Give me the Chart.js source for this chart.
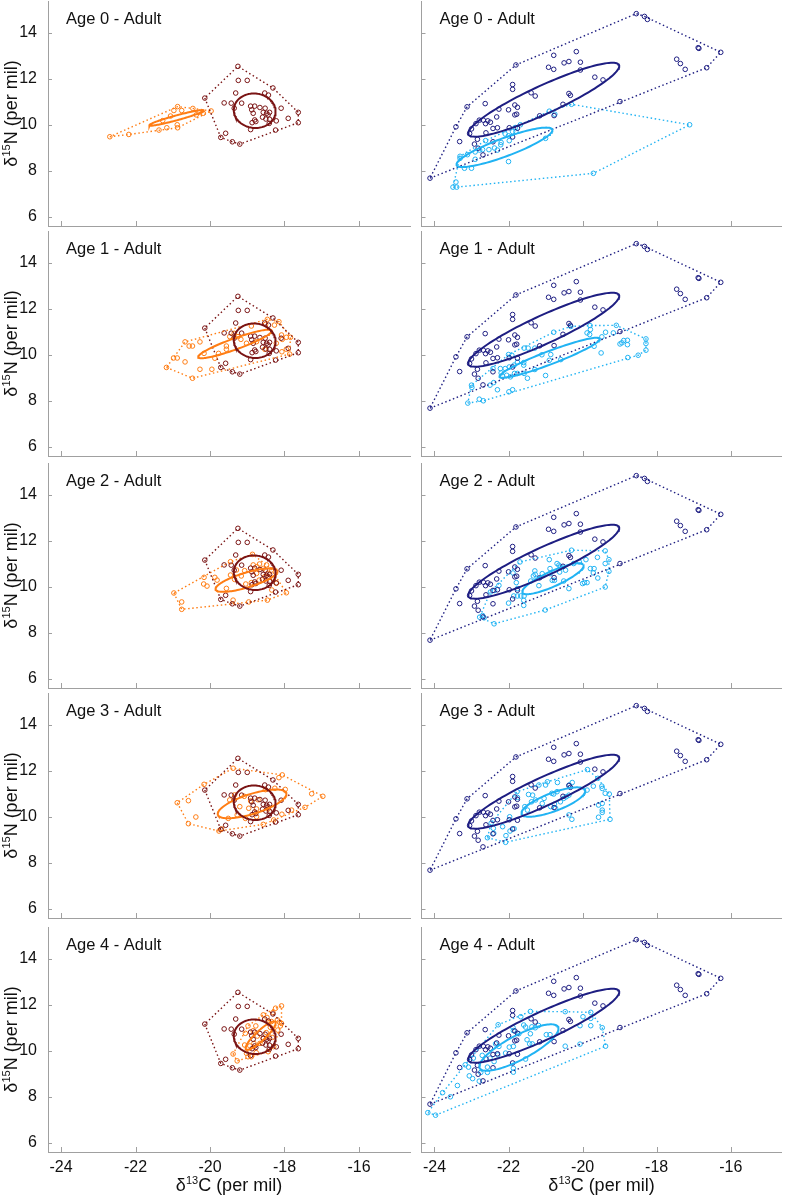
<!DOCTYPE html>
<html>
<head>
<meta charset="utf-8">
<script src="https://cdn.jsdelivr.net/npm/chart.js@4.4.1/dist/chart.umd.min.js"></script>
<style>
    body { margin: 0; background: #fff; width: 787px; height: 1196px; position: relative; overflow: hidden; }
    canvas { position: absolute; }
</style>
</head>
<body>
<script>
        // Axes
        const xTickVals = [-24, -22, -20, -18, -16];
        const yTickVals = [6, 8, 10, 12, 14];
        const panelLabels = ['Age 0 - Adult', 'Age 1 - Adult', 'Age 2 - Adult', 'Age 3 - Adult', 'Age 4 - Adult'];

        // Left column: adults (dark red) and juveniles by age (orange), [d13C, d15N]
        const leftAdult = [[-19.25,12.55],[-19.24,11.94],[-19.00,11.94],[-20.14,11.17],[-19.31,11.39],[-19.62,10.96],[-19.43,10.95],[-19.15,10.95],[-19.35,10.73],[-18.53,11.39],[-18.43,11.30],[-18.31,11.61],[-18.09,10.73],[-17.63,10.55],[-17.63,10.10],[-17.90,10.29],[-18.22,10.18],[-18.24,9.78],[-18.91,10.82],[-18.80,10.82],[-18.88,10.66],[-18.84,10.51],[-18.66,10.76],[-18.57,10.55],[-18.52,10.73],[-18.48,10.51],[-18.44,10.44],[-18.40,10.55],[-18.59,10.34],[-18.50,10.26],[-18.40,10.25],[-18.41,10.07],[-18.80,10.22],[-18.87,10.10],[-18.77,10.15],[-18.91,9.80],[-19.58,9.64],[-19.71,9.46],[-19.40,9.27],[-19.20,9.17]];
        const leftAge0 = [[-22.69,9.49],[-22.18,9.59],[-21.37,9.78],[-21.16,9.88],[-20.88,10.01],[-20.87,9.88],[-21.27,10.19],[-21.06,10.39],[-20.97,10.63],[-20.87,10.80],[-20.76,10.63],[-20.46,10.72],[-20.37,10.44],[-20.29,10.55],[-20.18,10.51],[-19.97,10.61]];
        const leftAge1 = [[-21.17,9.46],[-20.98,9.87],[-20.88,9.87],[-20.67,9.70],[-20.47,8.99],[-20.27,9.38],[-19.95,9.38],[-20.67,10.57],[-20.56,10.39],[-20.47,10.39],[-20.27,10.57],[-20.16,10.07],[-19.87,9.86],[-19.77,10.07],[-19.56,10.39],[-19.56,10.25],[-19.47,10.80],[-19.35,10.94],[-19.25,10.80],[-19.17,10.68],[-18.89,11.26],[-18.51,11.33],[-18.46,11.55],[-18.15,11.45],[-18.27,11.30],[-18.08,10.87],[-18.06,10.68],[-17.95,10.77],[-17.84,10.77],[-18.22,10.51],[-18.53,10.25],[-18.07,10.14],[-17.95,10.25],[-17.86,10.04],[-19.02,10.51],[-18.75,10.58]];
        const leftAge2 = [[-20.97,9.74],[-20.76,9.35],[-20.76,9.03],[-20.16,10.42],[-20.17,10.13],[-20.08,10.04],[-19.87,10.42],[-19.81,10.30],[-19.56,9.94],[-19.45,10.52],[-19.38,9.43],[-19.34,10.33],[-19.29,10.74],[-19.45,11.10],[-19.07,10.71],[-18.96,9.35],[-18.86,11.42],[-18.84,10.96],[-18.74,10.88],[-18.67,11.00],[-18.75,10.59],[-18.68,10.30],[-18.57,10.81],[-18.53,10.45],[-18.44,10.59],[-18.35,10.74],[-18.46,9.43],[-18.34,9.87],[-18.22,10.16],[-17.95,9.75],[-18.30,10.38],[-19.04,10.13],[-18.89,10.19],[-19.16,10.48],[-18.48,10.96]];
        const leftAge3 = [[-20.88,10.62],[-20.58,10.71],[-20.38,10.00],[-20.58,9.71],[-20.16,11.42],[-19.76,9.39],[-19.69,9.48],[-19.38,12.12],[-19.47,10.74],[-19.34,10.96],[-19.20,10.45],[-19.08,10.90],[-18.96,10.38],[-18.91,10.70],[-18.75,10.35],[-18.71,10.75],[-18.57,9.68],[-18.51,11.19],[-18.44,10.35],[-18.26,11.25],[-18.15,11.71],[-18.06,11.83],[-18.07,10.12],[-17.98,11.20],[-17.81,10.30],[-17.45,10.42],[-17.27,11.01],[-16.97,10.90],[-19.27,10.09],[-19.51,9.94],[-19.05,9.94],[-18.75,10.01],[-18.29,9.87]];
        const leftAge4 = [[-19.38,9.87],[-19.27,9.57],[-19.02,9.90],[-18.98,9.75],[-18.89,9.75],[-19.07,10.26],[-18.93,10.22],[-18.98,11.09],[-18.77,11.09],[-18.84,10.88],[-19.05,10.77],[-18.57,11.57],[-18.47,11.46],[-18.42,11.23],[-18.35,11.28],[-18.31,11.67],[-18.19,11.35],[-18.14,11.26],[-18.08,11.20],[-18.11,11.09],[-18.08,11.96],[-18.24,11.86],[-18.38,11.03],[-18.49,10.80],[-18.73,10.65],[-18.66,10.33],[-18.82,10.33],[-18.76,9.93],[-18.57,10.55],[-18.44,9.97],[-18.33,10.59],[-18.18,10.91],[-18.29,10.19]];
        const leftAges = [leftAge0, leftAge1, leftAge2, leftAge3, leftAge4];

        // Right column: adults (navy) and juveniles by age (light blue)
        const rightAdult = [[-24.12,7.69],[-23.42,9.92],[-23.32,9.28],[-23.12,10.79],[-21.80,12.61],[-18.55,14.84],[-18.33,14.72],[-18.25,14.59],[-16.88,13.36],[-16.86,13.33],[-16.27,13.16],[-16.65,12.49],[-17.46,12.86],[-17.36,12.67],[-17.23,12.42],[-18.99,11.02],[-19.67,12.08],[-19.45,11.96],[-20.06,12.73],[-20.06,12.39],[-20.17,13.19],[-20.50,12.70],[-20.37,12.76],[-20.78,13.03],[-20.92,12.51],[-20.78,12.42],[-21.89,11.76],[-21.89,11.55],[-21.39,11.40],[-21.28,11.26],[-20.37,11.37],[-20.33,11.29],[-20.53,10.90],[-20.77,10.41],[-21.16,10.40],[-21.83,10.87],[-21.76,10.77],[-22.00,10.66],[-21.83,10.44],[-21.78,10.47],[-22.26,10.69],[-22.32,10.35],[-22.63,10.93],[-23.00,9.83],[-23.05,9.63],[-22.88,10.06],[-22.79,10.21],[-22.68,10.21],[-22.56,10.18],[-22.49,10.12],[-22.62,10.06],[-22.42,9.85],[-22.30,9.88],[-22.61,9.66],[-22.84,9.38],[-22.92,9.17],[-22.82,8.99],[-22.69,8.70],[-22.42,9.27],[-21.98,9.88],[-21.76,9.86],[-21.89,9.48]];
        const rightAge0 = [[-23.50,7.30],[-23.40,7.30],[-23.42,7.52],[-23.19,8.12],[-23.00,8.12],[-23.31,8.55],[-23.31,8.64],[-23.11,8.71],[-22.90,8.51],[-22.90,8.83],[-22.78,8.91],[-22.70,8.93],[-22.62,9.32],[-22.53,8.93],[-22.38,9.00],[-22.30,8.91],[-22.20,9.24],[-22.21,9.14],[-22.09,9.61],[-22.00,9.53],[-21.98,9.32],[-21.89,9.71],[-21.80,9.71],[-21.82,9.89],[-21.68,10.01],[-22.00,8.41],[-21.00,9.42],[-20.90,10.60],[-20.75,10.47],[-20.30,10.90],[-17.11,10.01],[-19.71,7.90]];
        const rightAge1 = [[-23.10,7.91],[-22.79,8.08],[-22.68,8.01],[-23.00,8.69],[-22.99,8.59],[-22.50,8.69],[-22.40,8.80],[-22.30,8.49],[-21.99,8.40],[-21.89,8.49],[-22.42,9.41],[-22.22,9.41],[-22.20,9.22],[-22.09,9.41],[-22.16,9.08],[-22.05,9.12],[-21.95,9.05],[-21.84,9.20],[-21.76,9.20],[-21.58,9.20],[-21.98,9.48],[-21.85,9.56],[-21.76,9.69],[-21.59,9.67],[-21.59,9.56],[-22.00,10.02],[-21.91,9.99],[-21.49,8.99],[-21.29,9.37],[-21.00,9.11],[-21.58,10.30],[-21.47,10.30],[-21.29,10.30],[-21.10,10.01],[-20.86,10.02],[-20.90,9.77],[-20.59,9.80],[-20.78,10.99],[-20.32,11.24],[-19.80,11.28],[-19.79,11.11],[-19.88,10.96],[-19.81,10.89],[-19.69,10.38],[-19.50,10.09],[-19.48,10.79],[-19.38,10.99],[-19.17,10.96],[-19.09,11.29],[-18.99,10.48],[-18.94,10.53],[-18.89,10.63],[-18.79,10.64],[-18.79,10.45],[-18.29,10.70],[-18.29,10.50],[-18.29,10.21],[-18.50,9.99],[-18.78,9.89]];
        const rightAge2 = [[-22.39,8.40],[-22.78,8.69],[-22.70,8.76],[-22.66,8.66],[-22.49,9.78],[-22.38,9.85],[-22.26,10.07],[-22.00,9.30],[-21.86,9.61],[-21.76,9.61],[-21.67,9.61],[-21.58,9.61],[-21.59,9.20],[-21.59,9.42],[-21.76,9.93],[-21.88,10.61],[-21.79,10.19],[-21.69,11.09],[-21.40,10.26],[-21.33,10.48],[-21.29,10.70],[-21.28,10.55],[-21.18,10.06],[-21.09,10.58],[-21.01,9.00],[-20.90,11.19],[-20.88,10.80],[-20.88,10.58],[-20.82,10.29],[-20.76,10.29],[-20.69,11.02],[-20.64,10.95],[-20.60,10.87],[-20.62,10.65],[-20.51,10.26],[-20.37,9.93],[-20.46,10.73],[-20.30,11.60],[-20.24,11.02],[-20.09,11.09],[-20.00,10.15],[-19.95,10.19],[-19.88,10.19],[-19.91,11.19],[-19.79,10.80],[-19.71,10.61],[-19.69,10.80],[-19.59,10.39],[-19.39,10.00],[-19.39,11.02],[-19.29,11.19],[-19.29,10.68],[-19.39,11.57],[-19.60,11.29]];
        const rightAge3 = [[-22.57,9.10],[-22.40,9.29],[-22.08,8.90],[-22.07,9.19],[-21.96,9.39],[-21.85,9.49],[-22.47,9.73],[-22.41,9.51],[-22.16,9.58],[-21.97,10.01],[-21.77,11.10],[-21.76,10.85],[-21.56,10.45],[-21.49,10.30],[-21.46,10.98],[-21.35,10.95],[-21.27,10.74],[-21.38,10.66],[-21.18,11.39],[-21.00,11.39],[-20.95,11.53],[-20.83,11.03],[-20.78,11.00],[-20.68,11.50],[-21.04,10.81],[-21.09,10.59],[-20.86,10.45],[-20.73,10.38],[-20.76,10.56],[-20.60,10.66],[-20.51,10.81],[-20.44,10.88],[-20.37,10.95],[-20.36,11.39],[-20.28,11.50],[-20.69,11.10],[-20.37,10.09],[-20.29,9.90],[-19.88,11.17],[-19.87,12.06],[-19.71,11.34],[-19.59,11.68],[-19.48,11.34],[-19.47,11.24],[-19.57,10.52],[-19.57,9.99],[-19.47,10.59],[-19.47,10.30],[-19.47,10.20],[-19.39,11.03],[-19.28,11.00],[-19.26,9.90]];
        const rightAge4 = [[-24.18,7.32],[-23.97,7.21],[-23.78,8.19],[-23.57,8.01],[-23.38,8.50],[-23.17,9.40],[-23.08,9.30],[-23.06,8.92],[-22.97,8.80],[-22.79,8.69],[-22.75,9.07],[-22.95,9.69],[-22.71,9.81],[-22.57,9.30],[-22.57,9.07],[-22.50,9.69],[-22.39,9.54],[-22.28,11.14],[-22.35,10.31],[-22.26,10.20],[-22.29,9.83],[-22.08,9.91],[-21.98,10.17],[-21.88,11.02],[-21.87,10.89],[-21.87,10.20],[-21.87,9.25],[-21.87,9.08],[-21.72,10.75],[-21.67,11.49],[-21.59,11.13],[-21.54,11.04],[-21.50,10.49],[-21.43,10.31],[-21.36,10.31],[-21.41,10.75],[-21.37,11.05],[-21.28,11.01],[-21.19,11.11],[-21.41,11.72],[-21.54,9.65],[-20.98,10.71],[-20.88,10.71],[-20.47,11.71],[-20.47,10.21],[-20.07,11.10],[-20.07,10.30],[-19.99,11.49],[-19.78,11.68],[-19.78,11.42],[-19.78,11.10],[-19.47,11.01],[-19.38,10.21]];
        const rightAges = [rightAge0, rightAge1, rightAge2, rightAge3, rightAge4];

        // Standard ellipses: [centre d13C, centre d15N, semi-major, semi-minor, angle in degrees]
        const leftAdultEllipse = [-18.80, 10.62, 0.75, 0.56, 94];
        const leftAgeEllipses = [
            [-20.90, 10.31, 0.80, 0.10, 24],
            [-19.33, 10.48, 1.15, 0.22, 31],
            [-19.02, 10.30, 0.93, 0.30, 28],
            [-18.87, 10.57, 1.04, 0.40, 30],
            [-18.64, 10.67, 0.72, 0.16, 58]
        ];
        const rightAdultEllipse = [-21.05, 11.10, 2.54, 0.54, 37.6];
        const rightAgeEllipses = [
            [-22.11, 9.03, 1.51, 0.36, 32],
            [-20.89, 9.88, 1.59, 0.26, 32],
            [-20.80, 10.36, 1.03, 0.29, 38],
            [-20.79, 10.65, 1.01, 0.36, 34],
            [-21.72, 10.15, 1.40, 0.45, 43]
        ];

        const colors = { darkRed: '#7a1414', orange: '#ff7d14', navy: '#1e1e82', sky: '#21b3f3' };
        const axisGray = '#a0a0a0';
        const fontFamily = '"Liberation Sans", Arial, sans-serif';
        Chart.defaults.font.family = fontFamily;

        // Convex hull (monotone chain), closed
        function hull(pts) {
            const p = pts.map(q => q.slice()).sort((a, b) => a[0] - b[0] || a[1] - b[1]);
            const cross = (o, a, b) => (a[0] - o[0]) * (b[1] - o[1]) - (a[1] - o[1]) * (b[0] - o[0]);
            const lower = [], upper = [];
            for (const q of p) {
                while (lower.length >= 2 && cross(lower[lower.length - 2], lower[lower.length - 1], q) <= 0) lower.pop();
                lower.push(q);
            }
            for (const q of p.slice().reverse()) {
                while (upper.length >= 2 && cross(upper[upper.length - 2], upper[upper.length - 1], q) <= 0) upper.pop();
                upper.push(q);
            }
            lower.pop(); upper.pop();
            const h = lower.concat(upper);
            h.push(h[0]);
            return h.map(q => ({ x: q[0], y: q[1] }));
        }

        function ellipse(e) {
            const [cx, cy, a, b, deg] = e;
            const t = deg * Math.PI / 180;
            const out = [];
            for (let i = 0; i <= 120; i++) {
                const s = i / 120 * 2 * Math.PI;
                out.push({
                    x: cx + a * Math.cos(s) * Math.cos(t) - b * Math.sin(s) * Math.sin(t),
                    y: cy + a * Math.cos(s) * Math.sin(t) + b * Math.sin(s) * Math.cos(t)
                });
            }
            return out;
        }

        function pointSet(pts, color) {
            return {
                data: pts.map(([x, y]) => ({ x, y })),
                showLine: false,
                pointStyle: 'circle',
                pointRadius: 2.3,
                pointHoverRadius: 0,
                pointBorderWidth: 1,
                pointBackgroundColor: 'rgba(0,0,0,0)',
                borderColor: color
            };
        }

        function lineSet(data, color, width, dash) {
            return {
                data: data,
                showLine: true,
                pointRadius: 0,
                pointHoverRadius: 0,
                borderColor: color,
                borderWidth: width,
                borderDash: dash || [],
                tension: 0,
                fill: false
            };
        }

        // Superscript isotope label, e.g. δ15N (per mil)
        function isoLabel(ctx, sup, rest, cx, cy, rot) {
            ctx.save();
            ctx.translate(cx, cy);
            ctx.rotate(rot);
            const big = '18px ' + fontFamily, small = '11px ' + fontFamily;
            ctx.font = big;
            const w1 = ctx.measureText('δ').width, w3 = ctx.measureText(rest).width;
            ctx.font = small;
            const w2 = ctx.measureText(sup).width;
            let x = -(w1 + w2 + w3) / 2;
            ctx.fillStyle = '#111';
            ctx.textBaseline = 'alphabetic';
            ctx.textAlign = 'left';
            ctx.font = big; ctx.fillText('δ', x, 6); x += w1;
            ctx.font = small; ctx.fillText(sup, x, -1); x += w2;
            ctx.font = big; ctx.fillText(rest, x, 6);
            ctx.restore();
        }

        const decor = {
            id: 'decor',
            afterDraw(chart, args, o) {
                const ctx = chart.ctx, a = chart.chartArea;
                const xs = chart.scales.x, ys = chart.scales.y;
                ctx.save();
                ctx.strokeStyle = axisGray;
                ctx.lineWidth = 1;
                ctx.beginPath();
                xTickVals.forEach(v => {
                    const px = Math.round(xs.getPixelForValue(v)) + 0.5;
                    ctx.moveTo(px, a.bottom);
                    ctx.lineTo(px, a.bottom - 5);
                });
                yTickVals.forEach(v => {
                    const py = Math.round(ys.getPixelForValue(v)) + 0.5;
                    ctx.moveTo(a.left, py);
                    ctx.lineTo(a.left + 4, py);
                });
                ctx.stroke();
                ctx.fillStyle = '#111';
                ctx.font = '16.5px ' + fontFamily;
                ctx.textAlign = 'left';
                ctx.textBaseline = 'alphabetic';
                ctx.fillText(o.label, a.left + 18, a.top + 23);
                ctx.restore();
                if (o.yTitle) isoLabel(ctx, '15', 'N (per mil)', 11, (a.top + a.bottom) / 2, -Math.PI / 2);
                if (o.xTitle) isoLabel(ctx, '13', 'C (per mil)', (a.left + a.right) / 2, o.xTitleY, 0);
            }
        };

        // scales keep a fixed size, label overhang does not shrink the plot
        function fixSize(s, w, h) {
            if (w !== null) s.width = w;
            if (h !== null) s.height = h;
            s.paddingTop = 0; s.paddingBottom = 0; s.paddingLeft = 0; s.paddingRight = 0;
        }

        const canvasTops = [0, 230, 462, 692, 926];

        function makePanel(col, row) {
            const last = row === 4;
            const top = canvasTops[row];
            const h = last ? 1196 - top : 228;
            const left = col === 0 ? 0 : 412;
            const w = col === 0 ? 412 : 375;
            const cv = document.createElement('canvas');
            cv.width = w; cv.height = h;
            cv.style.left = left + 'px'; cv.style.top = top + 'px';
            cv.style.width = w + 'px'; cv.style.height = h + 'px';
            document.body.appendChild(cv);

            const adult = col === 0 ? leftAdult : rightAdult;
            const juv = col === 0 ? leftAges[row] : rightAges[row];
            const adultEll = col === 0 ? leftAdultEllipse : rightAdultEllipse;
            const juvEll = col === 0 ? leftAgeEllipses[row] : rightAgeEllipses[row];
            const cA = col === 0 ? colors.darkRed : colors.navy;
            const cJ = col === 0 ? colors.orange : colors.sky;
            const dots = [1.5, 2.6];

            new Chart(cv.getContext('2d'), {
                type: 'scatter',
                data: {
                    datasets: [
                        lineSet(ellipse(adultEll), cA, 2),
                        lineSet(ellipse(juvEll), cJ, 2),
                        lineSet(hull(adult), cA, 1.4, dots),
                        lineSet(hull(juv), cJ, 1.4, dots),
                        pointSet(adult, cA),
                        pointSet(juv, cJ)
                    ]
                },
                options: {
                    responsive: false,
                    animation: false,
                    events: [],
                    layout: { autoPadding: false, padding: { top: 1, left: 0, right: col === 0 ? 2 : 5.5, bottom: 0 } },
                    plugins: {
                        legend: { display: false },
                        title: { display: false },
                        tooltip: { enabled: false },
                        decor: { label: panelLabels[row], yTitle: col === 0, xTitle: last, xTitleY: 1185 - top }
                    },
                    scales: {
                        x: {
                            type: 'linear',
                            min: -24.35,
                            max: -14.63,
                            afterBuildTicks: s => { s.ticks = xTickVals.map(v => ({ value: v })); },
                            afterFit: s => fixSize(s, null, last ? h - 226 : 2),
                            grid: { display: false, drawTicks: false },
                            border: { display: true, color: axisGray, width: 1 },
                            ticks: {
                                display: last,
                                autoSkip: false,
                                maxRotation: 0,
                                padding: 6,
                                color: '#111',
                                font: { size: 16 },
                                callback: v => String(v)
                            }
                        },
                        y: {
                            type: 'linear',
                            min: 5.61,
                            max: 15.39,
                            afterBuildTicks: s => { s.ticks = yTickVals.map(v => ({ value: v })); },
                            afterFit: s => fixSize(s, col === 0 ? 48 : 9.5, null),
                            grid: { display: false, drawTicks: false },
                            border: { display: true, color: axisGray, width: 1 },
                            ticks: {
                                display: col === 0,
                                padding: 11,
                                color: '#111',
                                font: { size: 16 },
                                callback: v => String(v)
                            }
                        }
                    }
                },
                plugins: [decor]
            });
        }

        for (let r = 0; r < 5; r++) {
            makePanel(0, r);
            makePanel(1, r);
        }
</script>
</body>
</html>
